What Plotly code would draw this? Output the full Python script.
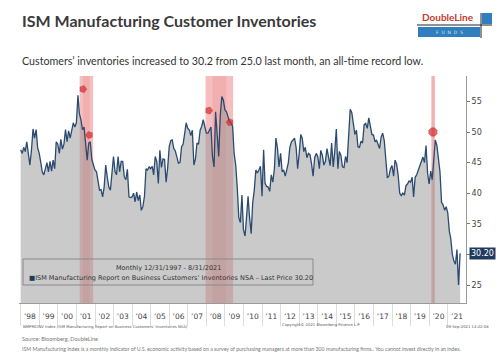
import pandas as pd
import plotly.graph_objects as go

# ---------------- data ----------------
v1997 = [47.1]
v1998 = [46.5, 47.5, 46.8, 48.4, 46.0, 44.6, 47.0, 50.5, 49.0, 50.4, 47.4, 46.5]
v1999 = [45.0, 43.5, 43.0, 44.0, 45.0, 43.5, 45.2, 43.6, 45.4, 44.0, 48.4, 48.0]
v2000 = [46.5, 48.8, 47.2, 48.0, 50.4, 48.4, 50.2, 49.0, 50.0, 51.5, 50.8, 51.5]
v2001 = [56.0, 53.0, 52.0, 50.4, 50.8, 48.4, 45.4, 48.2, 48.4, 45.5, 44.6, 43.8]
v2002 = [43.5, 42.0, 40.5, 40.6, 39.4, 41.0, 44.6, 42.6, 41.0, 40.5, 44.0, 46.0]
v2003 = [43.5, 43.0, 46.0, 43.5, 45.2, 45.2, 42.7, 42.2, 43.9, 39.4, 39.3, 39.4]
v2004 = [40.0, 38.6, 40.2, 38.8, 39.7, 37.2, 37.8, 39.5, 44.0, 43.8, 44.3, 44.0]
v2005 = [44.4, 43.0, 46.0, 45.2, 41.6, 47.0, 44.2, 45.6, 45.5, 41.8, 44.1, 47.6]
v2006 = [48.6, 48.7, 47.3, 46.9, 45.9, 44.9, 45.0, 47.6, 48.0, 49.8, 51.5, 50.6]
v2007 = [50.3, 49.4, 50.3, 44.6, 45.6, 48.2, 48.0, 50.3, 50.9, 52.0, 50.8, 49.8]
v2008 = [49.8, 50.2, 50.8, 46.0, 44.3, 53.3, 48.5, 46.0, 52.7, 55.8, 55.2, 53.6]
v2009 = [53.3, 52.3, 51.7, 51.5, 50.9, 46.5, 44.6, 40.8, 36.0, 35.2, 39.7, 34.0]
v2010 = [33.0, 36.0, 39.5, 36.0, 33.4, 38.4, 40.5, 43.8, 43.3, 43.8, 44.4, 39.5]
v2011 = [47.1, 41.6, 41.1, 41.0, 40.3, 43.0, 41.8, 44.0, 49.0, 47.3, 44.3, 46.5]
v2012 = [43.5, 43.8, 42.8, 43.8, 45.0, 47.5, 48.4, 48.7, 49.0, 47.5, 44.0, 46.5]
v2013 = [49.6, 49.0, 46.8, 47.5, 45.8, 46.5, 46.3, 44.8, 42.8, 45.8, 46.5, 46.0]
v2014 = [44.0, 47.0, 46.2, 44.6, 45.2, 47.3, 46.0, 44.5, 48.2, 44.3, 46.8, 50.5]
v2015 = [44.0, 46.8, 46.2, 44.3, 44.2, 46.0, 45.0, 49.5, 53.7, 53.2, 51.0, 49.6]
v2016 = [50.3, 47.6, 47.5, 48.5, 48.2, 51.2, 51.4, 50.6, 52.3, 50.5, 49.6, 49.5]
v2017 = [48.4, 48.7, 48.0, 47.3, 49.2, 49.8, 48.6, 45.4, 42.5, 42.8, 44.0, 44.5]
v2018 = [42.8, 45.4, 44.8, 43.0, 40.0, 39.6, 40.0, 39.7, 41.2, 41.5, 42.0, 41.8]
v2019 = [42.6, 39.4, 42.6, 43.0, 43.8, 44.6, 45.4, 45.9, 45.0, 47.8, 43.3, 41.5]
v2020 = [43.6, 42.2, 45.5, 48.7, 47.8, 45.2, 43.5, 38.5, 38.1, 37.2, 37.8, 36.8]
v2021 = [33.8, 32.6, 30.0, 28.9, 28.4, 30.8, 25.0, 30.2]

values = (v1997 + v1998 + v1999 + v2000 + v2001 + v2002 + v2003 + v2004 + v2005
          + v2006 + v2007 + v2008 + v2009 + v2010 + v2011 + v2012 + v2013 + v2014
          + v2015 + v2016 + v2017 + v2018 + v2019 + v2020 + v2021)
dates = pd.date_range("1997-12-31", periods=len(values), freq="ME")

year_ticks = [f"{y}-07-01" for y in range(1998, 2022)]
year_labels = ["\u2019" + str(y)[2:] for y in range(1998, 2022)]

y_tickvals = [25, 30, 35, 40, 45, 50, 55]
y_ticktext = ["25", "", "35", "40", "45", "50", "55"]

recession_starts = ["2001-03-05", "2007-12-15", "2020-02-10"]
recession_ends = ["2001-11-25", "2009-06-10", "2020-04-25"]

event_dates = ["2001-05-10", "2001-09-10", "2008-02-20", "2009-04-05", "2020-03-15"]
event_values = [57.0, 49.5, 53.5, 51.6, 50.0]
event_angles = [90, -90, 90, -90, 0]
event_symbols = ["pentagon", "pentagon", "pentagon", "pentagon", "octagon"]

# ---------------- layout helpers ----------------
L, R, T, B = 19, 466, 76, 303
W, H = R - L, B - T


def px(x):
    return (x - L) / W


def py(y):
    return (B - y) / H


fig = go.Figure()

fig.add_trace(go.Scatter(
    x=dates, y=values, mode="lines",
    line=dict(color="#2a4a70", width=1.3),
    fill="tozeroy", fillcolor="rgba(150,150,150,0.5)",
    hoverinfo="skip", showlegend=False,
))

fig.add_trace(go.Scatter(
    x=event_dates, y=event_values, mode="markers",
    marker=dict(symbol=event_symbols, angle=event_angles, size=[7.5, 7.5, 7.5, 7.5, 9],
                color="#d42a2a", line=dict(color="#b01818", width=0.5)),
    hoverinfo="skip", showlegend=False,
))

shapes = []
# recession bands (behind the series)
for s, e in zip(recession_starts, recession_ends):
    shapes.append(dict(type="rect", xref="x", yref="paper", x0=s, x1=e, y0=0, y1=1,
                       fillcolor="rgba(232,95,95,0.40)", line=dict(width=0),
                       layer="below"))
    mid0 = pd.Timestamp(s) + (pd.Timestamp(e) - pd.Timestamp(s)) * 0.25
    mid1 = pd.Timestamp(s) + (pd.Timestamp(e) - pd.Timestamp(s)) * 0.75
    shapes.append(dict(type="rect", xref="x", yref="paper", x0=mid0, x1=mid1, y0=0, y1=1,
                       fillcolor="rgba(220,90,90,0.15)", line=dict(width=0),
                       layer="below"))
# legend box
shapes.append(dict(type="rect", xref="paper", yref="paper",
                   x0=px(23), x1=px(313), y0=py(285), y1=py(259),
                   fillcolor="rgba(0,0,0,0)", line=dict(color="#8a8a8a", width=1),
                   layer="above"))

# logo pieces
shapes.append(dict(type="rect", xref="paper", yref="paper",
                   x0=px(418), x1=px(480), y0=py(37), y1=py(27),
                   fillcolor="#2f7fc0", line=dict(width=0)))
shapes.append(dict(type="rect", xref="paper", yref="paper",
                   x0=px(482), x1=px(492), y0=py(24), y1=py(13),
                   fillcolor="#2f7fc0", line=dict(width=0)))
shapes.append(dict(type="line", xref="paper", yref="paper",
                   x0=px(417), x1=px(492), y0=py(25), y1=py(25),
                   line=dict(color="#222222", width=1)))
shapes.append(dict(type="line", xref="paper", yref="paper",
                   x0=px(481), x1=px(481), y0=py(13), y1=py(38),
                   line=dict(color="#222222", width=1)))

ann = []
ann.append(dict(text="<b>ISM Manufacturing Customer Inventories</b>", x=px(20), y=py(21),
                xref="paper", yref="paper", xanchor="left", yanchor="middle", showarrow=False,
                font=dict(family="Lato", size=16, color="#3a3a3a")))
ann.append(dict(text="Customers\u2019 inventories increased to 30.2 from 25.0 last month, an all-time record low.",
                x=px(20), y=py(61), xref="paper", yref="paper", xanchor="left", yanchor="middle",
                showarrow=False, font=dict(family="Lato", size=10.7, color="#333333")))
ann.append(dict(text="<b>DoubleLine</b>", x=px(448), y=py(17), xref="paper", yref="paper",
                xanchor="center", yanchor="middle", showarrow=False,
                font=dict(family="Lato", size=10, color="#c43a30")))
ann.append(dict(text="F  U  N  D  S", x=px(449), y=py(32), xref="paper", yref="paper",
                xanchor="center", yanchor="middle", showarrow=False,
                font=dict(family="DejaVu Sans", size=4.5, color="#dbe9f6")))
# legend box text
ann.append(dict(text="Monthly 12/31/1997 - 8/31/2021", x=px(168), y=py(268), xref="paper", yref="paper",
                xanchor="center", yanchor="middle", showarrow=False,
                font=dict(family="DejaVu Sans", size=6.5, color="#333333")))
ann.append(dict(text="<span style='color:#1f3a5f'>\u25a0</span>ISM Manufacturing Report on Business Customers\u2019 Inventories NSA \u2013 Last Price 30.20",
                x=px(27), y=py(277.5), xref="paper", yref="paper",
                xanchor="left", yanchor="middle", showarrow=False,
                font=dict(family="DejaVu Sans", size=6.5, color="#333333")))
# last price tag
ann.append(dict(text="30.20", x=px(469), y=values[-1], xref="paper", yref="y",
                xanchor="left", yanchor="middle", showarrow=False,
                bgcolor="#1f3a5f", borderpad=1,
                font=dict(family="DejaVu Sans", size=8, color="#ffffff")))
# bottom small texts
ann.append(dict(text="NMPMCINV Index (ISM Manufacturing Report on Business Customers\u2019 Inventories NSA)",
                x=px(21), y=py(326), xref="paper", yref="paper", xanchor="left", yanchor="middle",
                showarrow=False, font=dict(family="DejaVu Sans", size=3.8, color="#555555")))
ann.append(dict(text="Copyright\u00a9 2021 Bloomberg Finance L.P.",
                x=px(280), y=py(324.5), xref="paper", yref="paper", xanchor="left", yanchor="middle",
                showarrow=False, font=dict(family="DejaVu Sans", size=3.8, color="#555555")))
ann.append(dict(text="09-Sep-2021 14:22:08",
                x=px(491), y=py(326), xref="paper", yref="paper", xanchor="right", yanchor="middle",
                showarrow=False, font=dict(family="DejaVu Sans", size=3.8, color="#555555")))
ann.append(dict(text="Source: Bloomberg, DoubleLine",
                x=px(20), y=py(339), xref="paper", yref="paper", xanchor="left", yanchor="middle",
                showarrow=False, font=dict(family="Lato", size=5.5, color="#777777")))
ann.append(dict(text="ISM Manufacturing Index is a monthly indicator of U.S. economic activity based on a survey of purchasing managers at more than 300 manufacturing firms.. You cannot invest directly in an index.",
                x=px(20), y=py(349), xref="paper", yref="paper", xanchor="left", yanchor="middle",
                showarrow=False, font=dict(family="Lato", size=5.2, color="#777777")))

fig.update_layout(
    width=500, height=354,
    margin=dict(l=L, r=500 - R, t=T, b=354 - B),
    paper_bgcolor="white", plot_bgcolor="white",
    shapes=shapes, annotations=ann,
    showlegend=False,
    xaxis=dict(
        type="date", range=["1997-11-28", "2021-12-25"],
        tickmode="array", tickvals=year_ticks, ticktext=year_labels,
        ticks="", showgrid=False, zeroline=False,
        showline=True, linecolor="#9a9a9a", linewidth=1,
        tickfont=dict(family="DejaVu Sans", size=7.5, color="#444444"),
        ticklabelstandoff=6,
        minor=dict(ticks="outside", ticklen=22, tickcolor="#dddddd", tickwidth=1,
                   dtick="M12", tick0="1998-01-01", showgrid=False),
    ),
    yaxis=dict(
        side="right", range=[22.06, 59.15],
        tickmode="array", tickvals=y_tickvals, ticktext=y_ticktext,
        ticks="outside", ticklen=3, tickcolor="#777777",
        showgrid=False, zeroline=False,
        showline=True, linecolor="#9a9a9a", linewidth=1,
        tickfont=dict(family="DejaVu Sans", size=8, color="#444444"),
    ),
)

fig.write_html("out.html")
